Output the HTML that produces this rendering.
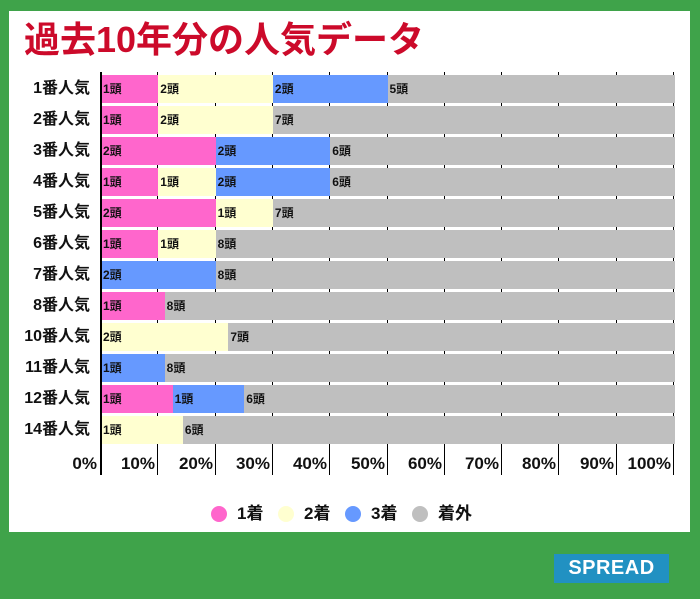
<!DOCTYPE html>
<html><head><meta charset="utf-8"><style>
body{margin:0;width:700px;height:599px;background:#3fa34a;position:relative;overflow:hidden;font-family:"Liberation Sans","Noto Sans CJK JP",sans-serif;}
.panel{position:absolute;left:9px;top:11px;width:681px;height:521px;background:#fff;}
.a{position:absolute;}
.t{position:absolute;left:24px;top:16px;font-size:36px;font-weight:bold;color:#cc0a2a;white-space:nowrap;line-height:48px;}
.lbl{position:absolute;width:90px;left:0;text-align:right;font-size:16px;font-weight:bold;line-height:28px;color:#111;}
.bar{position:absolute;height:28px;font-size:12px;font-weight:bold;line-height:28px;padding-left:2px;box-sizing:border-box;color:#111;white-space:nowrap;overflow:hidden;}
.tk{position:absolute;font-size:17px;font-weight:bold;width:50px;text-align:right;top:452px;line-height:24px;color:#111;}
.g{position:absolute;width:1px;background:#000;}
.leg{position:absolute;top:502px;font-size:17px;font-weight:bold;line-height:24px;color:#111;}
.dot{position:absolute;top:506px;width:16px;height:16px;border-radius:50%;}
</style></head><body>
<div class="panel"></div>
<div class="t">過去10年分の人気データ</div>
<div id="c"></div>
<div class="a" style="left:554px;top:554px;width:115px;height:29px;background:#2191c2;color:#fff;font-weight:bold;font-size:20px;line-height:29px;text-align:center;letter-spacing:0.5px">SPREAD</div>
<script>
var rows=[["1番人気",[1,2,2,5]],["2番人気",[1,2,0,7]],["3番人気",[2,0,2,6]],["4番人気",[1,1,2,6]],["5番人気",[2,1,0,7]],["6番人気",[1,1,0,8]],["7番人気",[0,0,2,8]],["8番人気",[1,0,0,8]],["10番人気",[0,2,0,7]],["11番人気",[0,0,1,8]],["12番人気",[1,0,1,6]],["14番人気",[0,1,0,6]]];
var col=["#ff66cc","#ffffd0","#6699ff","#bfbfbf"];
var h="",L=101,W=573;
for(var k=1;k<=10;k++){var x=Math.round(L+W*k/10)-1;h+='<div class="g" style="left:'+x+'px;top:72px;height:403px"></div>';}
rows.forEach(function(r,i){var y=75+31*i;var tot=r[1].reduce(function(a,b){return a+b},0);
h+='<div class="lbl" style="top:'+y+'px">'+r[0]+'</div>';
var x=L;r[1].forEach(function(v,j){if(!v)return;var w=W*v/tot;h+='<div class="bar" style="left:'+x+'px;top:'+y+'px;width:'+(w+0.6)+'px;background:'+col[j]+'">'+v+'頭</div>';x+=w;});});
h+='<div class="g" style="left:100px;top:72px;height:403px;width:2px"></div>';
for(var k=0;k<=10;k++){var x=Math.round(L+W*k/10)-3-50;h+='<div class="tk" style="left:'+(k==0?x-1:x)+'px">'+(k*10)+'%</div>';}
var lg=[[211,"1着"],[278,"2着"],[345,"3着"],[412,"着外"]];
lg.forEach(function(l,i){h+='<div class="dot" style="left:'+l[0]+'px;background:'+col[i]+'"></div><div class="leg" style="left:'+(l[0]+26)+'px">'+l[1]+'</div>';});
document.getElementById("c").innerHTML=h;
</script>
</body></html>
